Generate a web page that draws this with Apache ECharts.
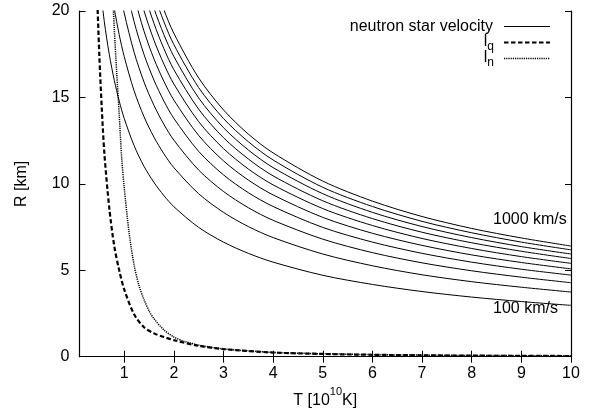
<!DOCTYPE html>
<html>
<head>
<meta charset="utf-8">
<script src="https://cdn.jsdelivr.net/npm/echarts@6/dist/echarts.min.js"></script>
<style>
html,body{margin:0;padding:0;background:#fff;}
#chart{width:598px;height:412px;}
</style>
</head>
<body>
<div id="chart"></div>
<script>
// ---- data ----
const xTicks = [1, 2, 3, 4, 5, 6, 7, 8, 9, 10];
const yTicks = [0, 5, 10, 15, 20];
const velocityLabels = ['100 km/s', '1000 km/s'];

// temperatures (10^10 K) at which the velocity curves were read
const tVel = [0.5, 0.6, 0.7, 0.8, 0.9, 1.0, 1.2, 1.4, 1.6, 1.8, 2.0, 2.5, 3, 3.5, 4, 5, 6, 7, 8, 9, 10];
// radii (km) for each neutron star velocity, null = above the plot
const r100  = [21.88, 19.38, 17.49, 16.00, 14.79, 13.79, 12.21, 11.01, 10.08, 9.32, 8.68, 7.48, 6.63, 5.98, 5.47, 4.71, 4.18, 3.77, 3.45, 3.19, 2.97];
const r200  = [null, null, 22.03, 20.15, 18.63, 17.37, 15.38, 13.88, 12.70, 11.74, 10.94, 9.43, 8.35, 7.53, 6.89, 5.94, 5.26, 4.74, 4.34, 4.02, 3.74];
const r300  = [null, null, null, 23.07, 21.33, 19.89, 17.61, 15.89, 14.54, 13.44, 12.53, 10.80, 9.56, 8.62, 7.89, 6.80, 6.02, 5.43, 4.97, 4.60, 4.28];
const r400  = [null, null, null, null, 23.48, 21.89, 19.38, 17.48, 16.00, 14.79, 13.79, 11.88, 10.52, 9.49, 8.69, 7.48, 6.63, 5.98, 5.47, 5.06, 4.72];
const r500  = [null, null, null, null, null, 23.58, 20.88, 18.83, 17.23, 15.93, 14.85, 12.80, 11.33, 10.22, 9.36, 8.06, 7.14, 6.44, 5.89, 5.45, 5.08];
const r600  = [null, null, null, null, null, 25.05, 22.19, 20.01, 18.31, 16.93, 15.78, 13.60, 12.04, 10.86, 9.94, 8.57, 7.59, 6.84, 6.26, 5.79, 5.40];
const r700  = [null, null, null, null, null, null, 23.35, 21.07, 19.28, 17.82, 16.61, 14.32, 12.67, 11.44, 10.46, 9.02, 7.99, 7.20, 6.59, 6.10, 5.68];
const r800  = [null, null, null, null, null, null, 24.42, 22.03, 20.15, 18.63, 17.37, 14.97, 13.25, 11.96, 10.94, 9.43, 8.35, 7.53, 6.89, 6.37, 5.94];
const r900  = [null, null, null, null, null, null, null, 22.91, 20.96, 19.38, 18.06, 15.57, 13.78, 12.44, 11.38, 9.80, 8.69, 7.83, 7.17, 6.63, 6.18];
const r1000 = [null, null, null, null, null, null, null, 23.73, 21.71, 20.07, 18.71, 16.13, 14.28, 12.88, 11.79, 10.16, 9.00, 8.11, 7.42, 6.87, 6.40];

// l_q (dashed)
const tLq = [0.45, 0.5, 0.55, 0.6, 0.7, 0.8, 0.9, 1.0, 1.2, 1.4, 1.6, 1.8, 2.0, 2.5, 3, 4, 5, 6, 7, 8, 9, 10];
const rLq = [21.3, 17.4, 14.3, 11.8, 8.6, 6.4, 5.0, 3.9, 2.45, 1.7, 1.35, 1.14, 0.96, 0.63, 0.44, 0.24, 0.16, 0.11, 0.08, 0.06, 0.05, 0.04];
// l_n (dotted)
const tLn = [0.76, 0.8, 0.85, 0.9, 0.95, 1.0, 1.1, 1.2, 1.3, 1.4, 1.5, 1.6, 1.8, 2.0, 2.2, 2.5, 3, 4, 5, 6, 7, 8, 9, 10];
const rLn = [21.5, 19.0, 16.4, 14.0, 11.5, 9.8, 7.15, 5.3, 4.1, 3.3, 2.65, 2.2, 1.55, 1.14, 0.9, 0.67, 0.45, 0.25, 0.17, 0.12, 0.09, 0.07, 0.06, 0.05];

// ---- chart ----
const FONT = 'Liberation Sans, Arial, Helvetica, sans-serif';
const velCurves = [r100, r200, r300, r400, r500, r600, r700, r800, r900, r1000];

function pairs(ts, rs) {
  const out = [];
  ts.forEach((t, i) => { if (rs[i] !== null) out.push([t, rs[i]]); });
  return out;
}

const series = velCurves.map(r => ({
  type: 'line',
  name: 'neutron star velocity',
  data: pairs(tVel, r),
  smooth: 0.3,
  symbol: 'none',
  clip: true,
  lineStyle: { color: '#000', width: 1 },
  silent: true
}));
series.push({
  type: 'line', name: 'lq', data: pairs(tLq, rLq),
  smooth: 0.3, symbol: 'none', clip: true,
  lineStyle: { color: '#000', width: 2.2, type: [4.5, 2.5] }, silent: true
});
series.push({
  type: 'line', name: 'ln', data: pairs(tLn, rLn),
  smooth: 0.3, symbol: 'none', clip: true,
  lineStyle: { color: '#000', width: 1.5, type: [1.2, 1] }, silent: true
});

const axisLineStyle = { show: true, lineStyle: { color: '#000', width: 1.2 } };
const tickStyle = { show: true, inside: true, length: 6, lineStyle: { color: '#000', width: 1 } };

const chart = echarts.init(document.getElementById('chart'), null, { renderer: 'canvas' });
chart.setOption({
  animation: false,
  backgroundColor: '#fff',
  textStyle: { fontFamily: FONT },
  grid: { left: 79.5, right: 27, top: 11, bottom: 55.3, containLabel: false, outerBoundsMode: 'none' },
  xAxis: [{
    type: 'value', min: 0.1, max: 10, position: 'bottom',
    axisLine: axisLineStyle,
    axisTick: Object.assign({ customValues: xTicks }, tickStyle),
    axisLabel: { customValues: xTicks, color: '#000', fontSize: 16, fontFamily: FONT, margin: 9 },
    splitLine: { show: false },
    name: '{n|T [10}{s|10}{n|K]}{z| }',
    nameLocation: 'middle', nameGap: 29,
    nameTextStyle: {
      rich: {
        n: { fontSize: 16, fontFamily: FONT, color: '#000', lineHeight: 16, verticalAlign: 'bottom' },
        s: { fontSize: 11, fontFamily: FONT, color: '#000', lineHeight: 11, verticalAlign: 'top' },
        z: { fontSize: 1, lineHeight: 22, width: 0, verticalAlign: 'middle' }
      }
    }
  }, {
    type: 'value', min: 0.1, max: 10, position: 'top',
    axisLine: axisLineStyle,
    axisTick: Object.assign({ customValues: xTicks }, tickStyle),
    axisLabel: { show: false },
    splitLine: { show: false }
  }],
  yAxis: [{
    type: 'value', min: 0, max: 20, interval: 5, position: 'left',
    axisLine: axisLineStyle,
    axisTick: Object.assign({ customValues: yTicks }, tickStyle),
    axisLabel: { customValues: yTicks, color: '#000', fontSize: 16, fontFamily: FONT, margin: 10 },
    splitLine: { show: false },
    name: 'R [km]', nameLocation: 'middle', nameGap: 50,
    nameTextStyle: { color: '#000', fontSize: 16, fontFamily: FONT }
  }, {
    type: 'value', min: 0, max: 20, interval: 5, position: 'right',
    axisLine: axisLineStyle,
    axisTick: Object.assign({ customValues: yTicks }, tickStyle),
    axisLabel: { show: false },
    splitLine: { show: false }
  }],
  series: series,
  graphic: [
    { type: 'text', z: 100, style: { text: 'neutron star velocity', x: 493, y: 26.5, align: 'right', verticalAlign: 'middle', font: '16px ' + FONT, fill: '#000' } },
    { type: 'line', z: 100, shape: { x1: 504, y1: 26.5, x2: 550, y2: 26.5 }, style: { stroke: '#000', lineWidth: 1 } },
    { type: 'text', z: 100, style: {
        text: '{m|l}{s|q}{z| }', x: 494, y: 43, align: 'right', verticalAlign: 'middle', fill: '#000',
        rich: {
          m: { fontSize: 16, fontFamily: FONT, lineHeight: 16, verticalAlign: 'top' },
          s: { fontSize: 12, fontFamily: FONT, lineHeight: 12, verticalAlign: 'bottom' },
          z: { fontSize: 1, lineHeight: 19, width: 0, verticalAlign: 'middle' }
        } } },
    { type: 'line', z: 100, shape: { x1: 504, y1: 42.5, x2: 550, y2: 42.5 }, style: { stroke: '#000', lineWidth: 2.2, lineDash: [4.5, 2.5] } },
    { type: 'text', z: 100, style: {
        text: '{m|l}{s|n}{z| }', x: 494, y: 59.1, align: 'right', verticalAlign: 'middle', fill: '#000',
        rich: {
          m: { fontSize: 16, fontFamily: FONT, lineHeight: 16, verticalAlign: 'top' },
          s: { fontSize: 12, fontFamily: FONT, lineHeight: 12, verticalAlign: 'bottom' },
          z: { fontSize: 1, lineHeight: 19, width: 0, verticalAlign: 'middle' }
        } } },
    { type: 'line', z: 100, shape: { x1: 504, y1: 58.6, x2: 550, y2: 58.6 }, style: { stroke: '#000', lineWidth: 1.5, lineDash: [1.2, 1] } },
    { type: 'text', z: 100, style: { text: velocityLabels[1], x: 493, y: 219.5, align: 'left', verticalAlign: 'middle', font: '16px ' + FONT, fill: '#000' } },
    { type: 'text', z: 100, style: { text: velocityLabels[0], x: 493, y: 309, align: 'left', verticalAlign: 'middle', font: '16px ' + FONT, fill: '#000' } }
  ]
});
</script>
</body>
</html>
